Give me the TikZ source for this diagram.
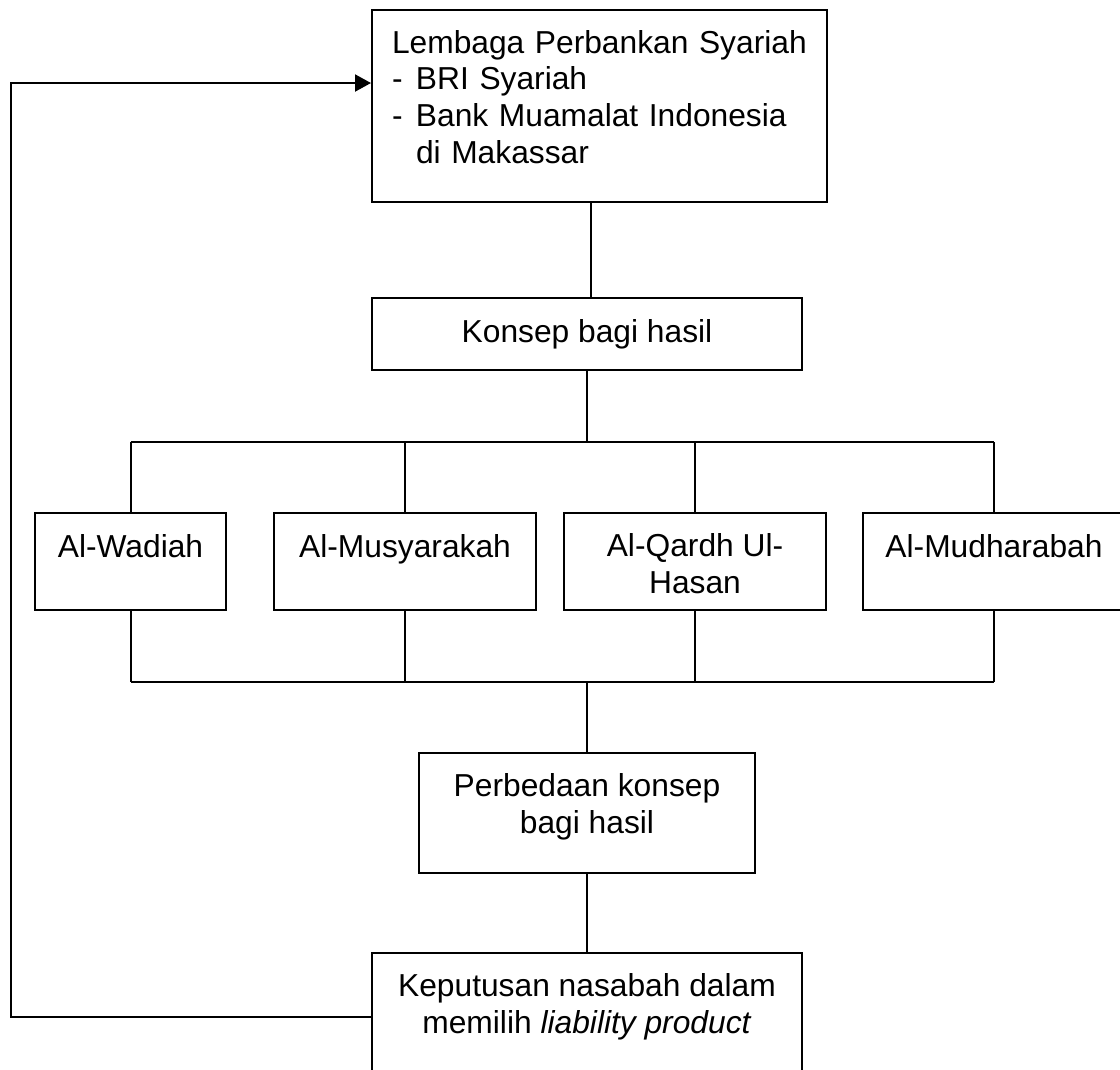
\documentclass[tikz,border=0pt]{standalone}
\usepackage{fontspec}
\setmainfont{Liberation Sans}
\usetikzlibrary{arrows.meta}

\begin{document}
\begin{tikzpicture}[x=0.4pt,y=-0.4pt,line width=0.8pt,
  font=\fontsize{12.7}{14.7}\selectfont,
  b/.style={draw,inner ysep=0pt,text height=17.6pt,align=center},
  r/.style={b,minimum width=104.8pt,text depth=21.2pt}]
\useasboundingbox (0,0) rectangle (1120,1069);
\node[b,align=left,text width=166pt,inner xsep=8pt,text height=17.2pt,text depth=59.6pt] (lps) at (599.5,106)
  {Lembaga Perbankan Syariah\\\makebox[9.6pt][l]{-}BRI Syariah\\\makebox[9.6pt][l]{-}Bank Muamalat Indonesia\\\hspace*{9.6pt}di Makassar};
\node[b,minimum width=172pt,text depth=11.2pt] (kbh) at (587,334) {Konsep bagi hasil};
\node[r,minimum width=76.4pt] (wad) at (130.5,561.5) {Al-Wadiah};
\node[r] (mus) at (405,561.5) {Al-Musyarakah};
\node[r,text height=32pt,text depth=6.8pt] (qar) at (695,561.5) {Al-Qardh Ul-\\Hasan};
\node[r] (mud) at (994,561.5) {Al-Mudharabah};
\node[b,minimum width=134.4pt,text height=32pt,text depth=16pt] (pkb) at (587,813) {Perbedaan konsep\\bagi hasil};
\node[b,minimum width=172pt,text height=32pt,text depth=19.2pt] (kep) at (587,1017) {Keputusan nasabah dalam\\memilih \textit{liability product}};
\coordinate (bt) at (587,442);
\coordinate (bb) at (587,682);
\coordinate (fb) at (11,83);
% bus
\draw ([xshift=1.6pt]kbh.north) -- ([xshift=1.6pt]kbh.north |- lps.south);
\draw (kbh.south) -- (bt);
\foreach \n in {wad,mus,qar,mud} {
  \draw (\n.north) -- (\n.north |- bt);
  \draw (\n.south) -- (\n.south |- bb);
}
\draw (wad.north |- bt) -- (mud.north |- bt);
\draw (wad.south |- bb) -- (mud.south |- bb);
\draw (bb) -- (pkb.north);
\draw (pkb.south) -- (kep.north);
% feedback
\draw[-{Triangle[length=6.4pt,width=6.8pt]}] (kep.west) -| (fb) -- (fb -| lps.west);
\end{tikzpicture}
\end{document}
